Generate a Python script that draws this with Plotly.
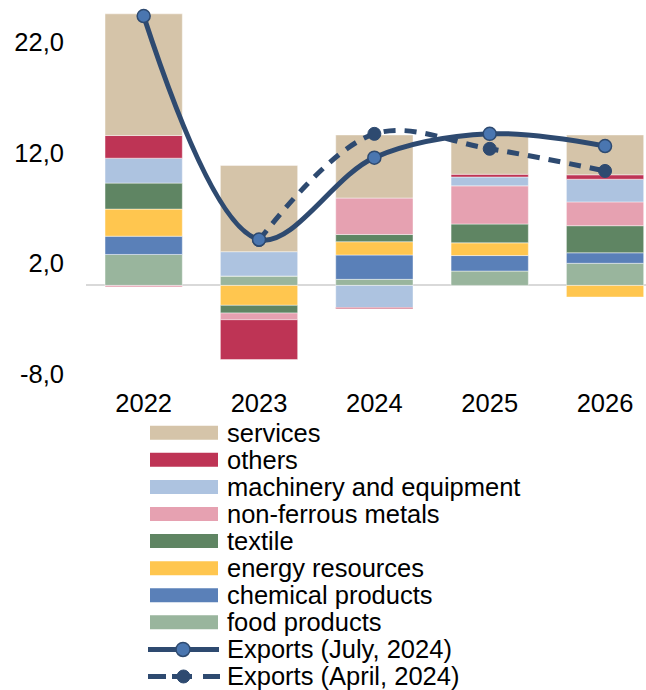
import plotly.graph_objects as go

# Export growth decomposition by product group, contributions in p.p.
years = ["2022", "2023", "2024", "2025", "2026"]

food_products = [2.8, 0.85, 0.55, 1.3, 2.0]
chemical_products = [1.65, 0.0, 2.2, 1.4, 0.95]
energy_resources = [2.45, -1.8, 1.2, 1.15, -1.05]
textile = [2.35, -0.7, 0.65, 1.7, 2.45]
non_ferrous_metals = [-0.15, -0.6, 3.3, 3.45, 2.15]
machinery_and_equipment = [2.25, 2.2, -2.0, 0.8, 2.05]
others = [2.05, -3.6, -0.1, 0.25, 0.4]
services = [11.0, 7.8, 5.7, 3.55, 3.6]

exports_july_2024 = [24.35, 4.15, 11.55, 13.7, 12.6]
exports_april_2024 = [None, 4.1, 13.7, 12.35, 10.35]

y_ticks = [-8, 2, 12, 22]
y_tick_labels = ["-8,0", "2,0", "12,0", "22,0"]

# stacking order, bottom to top
components = [
    ("food products", food_products, "#99B59D"),
    ("chemical products", chemical_products, "#5A80B8"),
    ("energy resources", energy_resources, "#FFC64F"),
    ("textile", textile, "#5F8563"),
    ("non-ferrous metals", non_ferrous_metals, "#E6A1B1"),
    ("machinery and equipment", machinery_and_equipment, "#ADC3E0"),
    ("others", others, "#BE3455"),
    ("services", services, "#D5C4A9"),
]

NAVY = "#2E4A70"
MARKER_BLUE = "#4A76B0"
FONT = "Liberation Sans, Arial, sans-serif"
FS = 25.5

Y_MIN, Y_MAX = -9.0, 25.8
PX_PER_UNIT = 11.07

W, H = 646, 690
ML, MR, MT = 86, 0, 0
PH = (Y_MAX - Y_MIN) * PX_PER_UNIT
MB = H - MT - PH
PW = W - ML - MR

fig = go.Figure()

for name, vals, color in components:
    fig.add_trace(go.Bar(
        x=years, y=vals, name=name,
        marker=dict(color=color, line=dict(color="rgba(255,255,255,0.55)", width=0.8)),
        showlegend=False,
    ))

fig.add_trace(go.Scatter(
    x=years, y=exports_april_2024, name="Exports (April, 2024)",
    mode="lines+markers", line=dict(color=NAVY, width=5, dash="12px,9px", shape="spline"),
    marker=dict(size=13, color=NAVY, line=dict(color=NAVY, width=1)),
    showlegend=False, cliponaxis=False,
))
fig.add_trace(go.Scatter(
    x=years, y=exports_july_2024, name="Exports (July, 2024)",
    mode="lines+markers", line=dict(color=NAVY, width=5, shape="spline"),
    marker=dict(size=13, color=MARKER_BLUE, line=dict(color=NAVY, width=1.5)),
    showlegend=False, cliponaxis=False,
))


def px(x):
    return (x - ML) / PW


def py(y):
    return (MT + PH - y) / PH


# legend drawn below the plot
shapes = []
annotations = []
row0, row_step = 433, 27.1
legend_rows = [(n, c) for n, _, c in reversed(components)]
for i, (name, color) in enumerate(legend_rows):
    yc = row0 + i * row_step
    shapes.append(dict(type="rect", xref="paper", yref="paper",
                       x0=px(150), x1=px(218), y0=py(yc + 7), y1=py(yc - 7),
                       fillcolor=color, line=dict(width=0)))
    annotations.append(dict(text=name, xref="paper", yref="paper", x=px(225), y=py(yc),
                            xanchor="left", yanchor="middle", showarrow=False,
                            font=dict(family=FONT, size=FS, color="#000")))

line_rows = [("Exports (July, 2024)", False), ("Exports (April, 2024)", True)]
for j, (name, dashed) in enumerate(line_rows):
    yc = row0 + (len(legend_rows) + j) * row_step
    if dashed:
        for a, b in [(148, 166), (203, 220)]:
            shapes.append(dict(type="line", xref="paper", yref="paper",
                               x0=px(a), x1=px(b), y0=py(yc), y1=py(yc),
                               line=dict(color=NAVY, width=5)))
        shapes.append(dict(type="circle", xref="paper", yref="paper",
                           x0=px(177), x1=px(190), y0=py(yc + 6.5), y1=py(yc - 6.5),
                           fillcolor=NAVY, line=dict(color=NAVY, width=1)))
        shapes.append(dict(type="line", xref="paper", yref="paper",
                           x0=px(172), x1=px(192), y0=py(yc), y1=py(yc),
                           line=dict(color=NAVY, width=5)))
    else:
        shapes.append(dict(type="line", xref="paper", yref="paper",
                           x0=px(148), x1=px(219), y0=py(yc), y1=py(yc),
                           line=dict(color=NAVY, width=5)))
        shapes.append(dict(type="circle", xref="paper", yref="paper",
                           x0=px(176), x1=px(190), y0=py(yc + 7), y1=py(yc - 7),
                           fillcolor=MARKER_BLUE, line=dict(color=NAVY, width=1.5)))
    annotations.append(dict(text=name, xref="paper", yref="paper", x=px(225), y=py(yc),
                            xanchor="left", yanchor="middle", showarrow=False,
                            font=dict(family=FONT, size=FS, color="#000")))

fig.update_layout(
    width=W, height=H,
    margin=dict(l=ML, r=MR, t=MT, b=MB, pad=0),
    barmode="relative", bargap=0.33,
    plot_bgcolor="white", paper_bgcolor="white",
    font=dict(family=FONT, size=FS, color="#000"),
    shapes=shapes, annotations=annotations,
    showlegend=False,
)
fig.update_xaxes(
    type="category", range=[-0.5, 4.355],
    showgrid=False, showline=False, zeroline=False, ticks="",
    tickfont=dict(family=FONT, size=FS, color="#000"),
)
fig.update_yaxes(
    range=[Y_MIN, Y_MAX], tickvals=y_ticks, ticktext=y_tick_labels,
    showgrid=False, showline=False, ticks="",
    zeroline=True, zerolinecolor="#D9D9D9", zerolinewidth=2,
    ticklabelstandoff=21,
    tickfont=dict(family=FONT, size=FS, color="#000"),
)

fig.write_html("out.html")
